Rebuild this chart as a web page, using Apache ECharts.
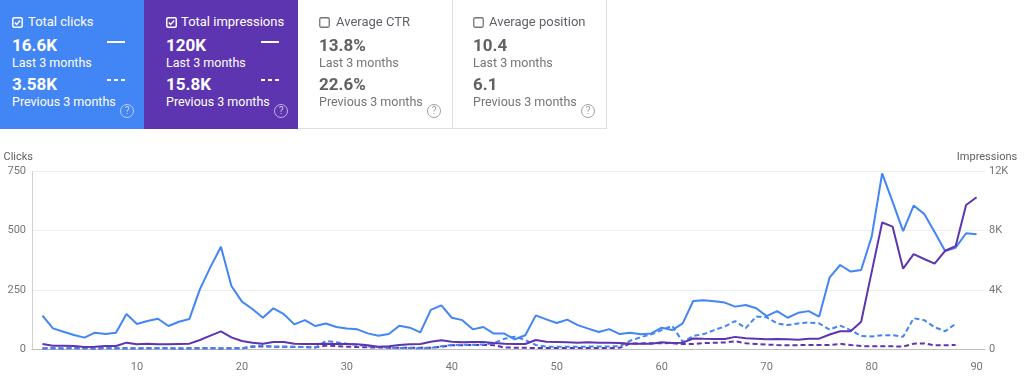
<!DOCTYPE html>
<html lang="en">

<head>
    <meta charset="UTF-8">
    <title>Performance</title>
    <script src="https://cdnjs.cloudflare.com/ajax/libs/echarts/6.0.0/echarts.min.js"></script>
    <style>
        body { margin: 0; width: 1024px; height: 377px; overflow: hidden; background: #fff; font-family: Roboto, "Noto Sans", sans-serif; }
        #main { position: absolute; left: 0; top: 0; width: 1024px; height: 377px; }
        .card { position: absolute; top: 0; height: 129px; box-sizing: border-box; }
        .card div, .card svg { position: absolute; white-space: nowrap; }
        .title { font-size: 13px; line-height: 16px; top: 14px; }
        .val { font-size: 17px; font-weight: 700; line-height: 20px; }
        .sub { font-size: 12.5px; line-height: 15px; }
        .white { color: #fff; }
        .grey .title { color: #5f6368; }
        .grey .val { color: #616161; }
        .grey .sub { color: #757575; }
        .help { width: 12px; height: 12px; border-radius: 50%; font-size: 10px; line-height: 12px; text-align: center; top: 104px; }
    </style>
</head>

<body>
    <div id="main"></div>

    <div class="card white" style="left:0;width:144px;background:#4285f4;">
        <svg style="left:12px;top:17px" width="11" height="11"><rect x="0.75" y="0.75" width="9.5" height="9.5" rx="1.5" fill="none" stroke="#fff" stroke-width="1.5"/><path d="M2.8 5.6 L4.6 7.4 L8.2 3.6" fill="none" stroke="#fff" stroke-width="1.4"/></svg>
        <div class="title" style="left:28px">Total clicks</div>
        <div class="val" style="left:12px;top:35px">16.6K</div>
        <div class="sub" style="left:12px;top:55px">Last 3 months</div>
        <div class="val" style="left:12px;top:74px">3.58K</div>
        <div class="sub" style="left:12px;top:94px">Previous 3 months</div>
        <svg style="left:107px;top:40px" width="18" height="4"><line x1="0" y1="2" x2="18" y2="2" stroke="#fff" stroke-width="2"/></svg>
        <svg style="left:107px;top:78px" width="18" height="4"><line x1="0" y1="2" x2="18" y2="2" stroke="#fff" stroke-width="2" stroke-dasharray="4,3"/></svg>
        <div class="help" style="left:120px;border:1.3px solid rgba(255,255,255,0.6);color:rgba(255,255,255,0.7)">?</div>
    </div>

    <div class="card white" style="left:144px;width:154px;background:#5e35b1;">
        <svg style="left:22px;top:17px" width="11" height="11"><rect x="0.75" y="0.75" width="9.5" height="9.5" rx="1.5" fill="none" stroke="#fff" stroke-width="1.5"/><path d="M2.8 5.6 L4.6 7.4 L8.2 3.6" fill="none" stroke="#fff" stroke-width="1.4"/></svg>
        <div class="title" style="left:37px">Total impressions</div>
        <div class="val" style="left:22px;top:35px">120K</div>
        <div class="sub" style="left:22px;top:55px">Last 3 months</div>
        <div class="val" style="left:22px;top:74px">15.8K</div>
        <div class="sub" style="left:22px;top:94px">Previous 3 months</div>
        <svg style="left:117px;top:40px" width="18" height="4"><line x1="0" y1="2" x2="18" y2="2" stroke="#fff" stroke-width="2"/></svg>
        <svg style="left:117px;top:78px" width="18" height="4"><line x1="0" y1="2" x2="18" y2="2" stroke="#fff" stroke-width="2" stroke-dasharray="4,3"/></svg>
        <div class="help" style="left:130px;border:1.3px solid rgba(255,255,255,0.6);color:rgba(255,255,255,0.7)">?</div>
    </div>

    <div class="card grey" style="left:298px;width:155px;border-right:1px solid #e0e0e0;border-bottom:1px solid #e0e0e0;">
        <svg style="left:21px;top:17px" width="11" height="11"><rect x="0.75" y="0.75" width="9.5" height="9.5" rx="1.5" fill="none" stroke="#757575" stroke-width="1.3"/></svg>
        <div class="title" style="left:38px">Average CTR</div>
        <div class="val" style="left:21px;top:35px">13.8%</div>
        <div class="sub" style="left:21px;top:55px">Last 3 months</div>
        <div class="val" style="left:21px;top:74px">22.6%</div>
        <div class="sub" style="left:21px;top:94px">Previous 3 months</div>
        <div class="help" style="left:129px;border:1.3px solid #9e9e9e;color:#9e9e9e">?</div>
    </div>

    <div class="card grey" style="left:452px;width:155px;border-right:1px solid #e0e0e0;border-bottom:1px solid #e0e0e0;">
        <svg style="left:21px;top:17px" width="11" height="11"><rect x="0.75" y="0.75" width="9.5" height="9.5" rx="1.5" fill="none" stroke="#757575" stroke-width="1.3"/></svg>
        <div class="title" style="left:37px">Average position</div>
        <div class="val" style="left:21px;top:35px">10.4</div>
        <div class="sub" style="left:21px;top:55px">Last 3 months</div>
        <div class="val" style="left:21px;top:74px">6.1</div>
        <div class="sub" style="left:21px;top:94px">Previous 3 months</div>
        <div class="help" style="left:129px;border:1.3px solid #9e9e9e;color:#9e9e9e">?</div>
    </div>

    <script type="text/javascript">
        // daily values, day 1..90 (previous period only has 88 days)
        const clicksLast = [141, 87, 73, 59, 48, 69, 63, 69, 148, 106, 118, 128, 97, 115, 127, 253, 346, 432, 266, 200,
            169, 132, 172, 147, 104, 122, 97, 108, 93, 87, 83, 66, 56, 63, 98, 90, 70, 165, 184, 132,
            122, 83, 93, 65, 65, 41, 58, 142, 125, 110, 124, 101, 86, 72, 84, 63, 69, 62, 66, 90,
            80, 108, 203, 206, 202, 196, 179, 186, 172, 139, 160, 132, 153, 160, 137, 303, 355, 327, 334, 474,
            742, 622, 498, 606, 571, 494, 414, 428, 489, 485];
        const impressionsLast = [338, 225, 225, 203, 135, 158, 203, 203, 428, 315, 360, 315, 315, 338, 360, 608, 901, 1194, 789, 541,
            428, 360, 473, 473, 360, 338, 338, 360, 338, 330, 315, 248, 158, 180, 270, 315, 338, 496, 586, 496,
            450, 473, 473, 405, 360, 338, 338, 608, 496, 473, 450, 428, 450, 428, 428, 405, 360, 360, 360, 450,
            405, 430, 710, 690, 680, 680, 820, 721, 698, 654, 676, 654, 631, 698, 698, 980, 1200, 1195, 1840, 5200,
            8550, 8270, 5430, 6410, 6085, 5770, 6640, 6950, 9735, 10255];
        const clicksPrev = [3, 2, 3, 4, 3, 3, 4, 3, 2, 3, 3, 4, 3, 3, 2, 3, 3, 3, 2, 3,
            12, 15, 9, 10, 9, 8, 6, 34, 29, 22, 17, 12, 8, 6, 4, 4, 3, 5, 12, 17,
            18, 18, 19, 25, 43, 52, 38, 17, 10, 9, 9, 9, 10, 11, 11, 12, 35, 50, 62, 80,
            98, 30, 55, 63, 80, 95, 118, 88, 137, 134, 108, 101, 108, 112, 108, 82, 99, 80, 55, 53,
            58, 58, 52, 130, 122, 92, 75, 106];
        const impressionsPrev = [40, 45, 40, 50, 45, 40, 45, 50, 45, 40, 45, 50, 45, 40, 45, 50, 45, 40, 45, 50,
            150, 170, 160, 150, 140, 130, 110, 230, 200, 160, 130, 110, 100, 90, 90, 90, 80, 90, 150, 250,
            260, 270, 270, 260, 100, 90, 80, 70, 70, 70, 70, 70, 70, 70, 70, 80, 380, 380, 390, 390,
            400, 330, 340, 400, 420, 440, 520, 390, 340, 300, 270, 250, 260, 270, 270, 270, 350, 270, 200, 180,
            180, 180, 160, 360, 380, 250, 250, 270];
        const xTicks = [10, 20, 30, 40, 50, 60, 70, 80, 90];

        const blue = '#4285f4';
        const purple = '#5e35b1';

        function pairs(arr) {
            return arr.map((v, i) => [i + 1, v]);
        }

        const myChart = echarts.init(document.getElementById('main'));

        const option = {
            animation: false,
            grid: { left: 32, right: 39, top: 171.5, bottom: 28 },
            xAxis: {
                type: 'value',
                min: 0,
                max: 90.8,
                interval: 10,
                axisLine: { show: true, lineStyle: { color: '#bdbdbd', width: 1 } },
                axisTick: { show: false },
                splitLine: { show: false },
                axisLabel: {
                    color: '#757575', fontSize: 11, fontFamily: 'Roboto', margin: 13,
                    formatter: v => xTicks.indexOf(v) >= 0 ? String(v) : ''
                }
            },
            yAxis: [
                {
                    type: 'value',
                    name: 'Clicks',
                    nameLocation: 'end',
                    nameGap: 9,
                    nameTextStyle: { color: '#616161', fontSize: 11, fontFamily: 'Roboto', align: 'right', padding: [0, -1, 0, 0] },
                    min: 0, max: 750, interval: 250,
                    axisLine: { show: true, lineStyle: { color: '#d0d0d0' } },
                    axisTick: { show: false },
                    splitLine: { lineStyle: { color: '#eeeeee' } },
                    axisLabel: { color: '#757575', fontSize: 11, fontFamily: 'Roboto', margin: 6 }
                },
                {
                    type: 'value',
                    name: 'Impressions',
                    nameLocation: 'end',
                    nameGap: 9,
                    nameTextStyle: { color: '#616161', fontSize: 11, fontFamily: 'Roboto', align: 'center', padding: [0, 0, 0, 4] },
                    min: 0, max: 12000, interval: 4000,
                    axisLine: { show: false },
                    axisTick: { show: false },
                    splitLine: { show: false },
                    axisLabel: {
                        color: '#757575', fontSize: 11, fontFamily: 'Roboto', margin: 4,
                        formatter: v => v === 0 ? '0' : (v / 1000) + 'K'
                    }
                }
            ],
            series: [
                {
                    name: 'Impressions (previous)', type: 'line', yAxisIndex: 1, data: pairs(impressionsPrev),
                    showSymbol: false, lineStyle: { color: purple, width: 2, type: [5, 3] }
                },
                {
                    name: 'Clicks (previous)', type: 'line', yAxisIndex: 0, data: pairs(clicksPrev),
                    showSymbol: false, lineStyle: { color: blue, width: 2, type: [5, 3] }
                },
                {
                    name: 'Clicks', type: 'line', yAxisIndex: 0, data: pairs(clicksLast),
                    showSymbol: false, lineStyle: { color: blue, width: 2 }
                },
                {
                    name: 'Impressions', type: 'line', yAxisIndex: 1, data: pairs(impressionsLast),
                    showSymbol: false, lineStyle: { color: purple, width: 2 }
                }
            ]
        };

        myChart.setOption(option);
    </script>
</body>

</html>
